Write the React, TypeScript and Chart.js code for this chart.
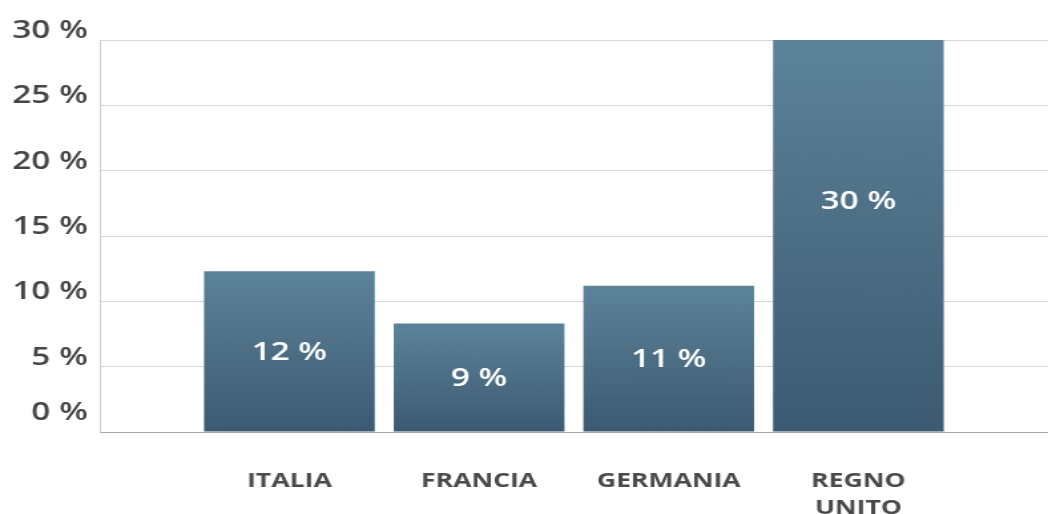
import React, { useEffect, useRef } from "react";
import { Chart, registerables } from "chart.js";

Chart.register(...registerables);

// ---- data ----
const categories = ["ITALIA", "FRANCIA", "GERMANIA", "REGNO UNITO"];
const shares = [12.3, 8.3, 11.2, 30];
const shareLabels = ["12 %", "9 %", "11 %", "30 %"];
const yTickValues = [0, 5, 10, 15, 20, 25, 30];

// ---- rendering constants ----
const STRETCH = 1.33;
const W = Math.round(1048 / STRETCH);
const H = 514;
const FONT = "'Open Sans', 'Noto Sans', sans-serif";

const barLabelPlugin = {
  id: "barLabels",
  afterDatasetsDraw(chart: any) {
    const meta = chart.getDatasetMeta(0);
    const ctx = chart.ctx;
    ctx.save();
    ctx.fillStyle = "#ffffff";
    ctx.font = `600 25px ${FONT}`;
    ctx.textAlign = "center";
    ctx.textBaseline = "middle";
    meta.data.forEach((el: any, i: number) => {
      const k = i - 1;
      if (k < 0 || k >= shareLabels.length) return;
      const top = el.y;
      const bottom = el.base;
      const y = Math.min((top + bottom) / 2, top + 161);
      ctx.fillText(shareLabels[k], el.x, y + 1);
    });
    ctx.restore();
  },
};

export default function App() {
  const ref = useRef<HTMLCanvasElement | null>(null);

  useEffect(() => {
    document.body.style.margin = "0";
    const canvas = ref.current!;
    const labels = ["", ...categories, ""];
    const data = [null, ...shares, null];

    const chart = new Chart(canvas, {
      type: "bar",
      data: {
        labels,
        datasets: [
          {
            data: data as any,
            barPercentage: 0.9,
            categoryPercentage: 1.0,
            borderWidth: 0,
            backgroundColor: (c: any) => {
              const ch = c.chart;
              const ys = ch.scales && ch.scales.y;
              const v = c.raw;
              if (!ch.chartArea || !ys || v == null) return "#4a6d86";
              const top = ys.getPixelForValue(v);
              const bottom = ys.getPixelForValue(0);
              const g = ch.ctx.createLinearGradient(0, top, 0, bottom);
              g.addColorStop(0, "#5c8399");
              g.addColorStop(1, "#3c5a72");
              return g;
            },
          },
        ],
      },
      options: {
        responsive: false,
        devicePixelRatio: 1,
        animation: false,
        layout: { padding: { top: 40, right: 0, left: 0, bottom: 0 } },
        plugins: {
          legend: { display: false },
          tooltip: { enabled: false },
        },
        scales: {
          x: {
            offset: false,
            grid: { display: false, drawTicks: false },
            border: { display: false },
            afterFit: (s: any) => {
              s.height = 82;
              s.paddingLeft = 0;
              s.paddingRight = 0;
            },
            ticks: {
              autoSkip: false,
              maxRotation: 0,
              padding: 36,
              color: "#4a4a4a",
              font: { family: FONT, size: 20, weight: "700", lineHeight: 1.35 },
              callback: function (this: any, value: any) {
                const l = this.getLabelForValue(value) as string;
                return l.includes(" ") ? l.split(" ") : l;
              },
            },
          },
          y: {
            min: 0,
            max: 30,
            afterFit: (s: any) => {
              s.width = 75;
            },
            afterBuildTicks: (s: any) => {
              s.ticks = yTickValues.map((v) => ({ value: v }));
            },
            grid: {
              drawTicks: false,
              color: (c: any) => (c.tick && c.tick.value === 0 ? "#a9a9a9" : "#d6d6d6"),
              lineWidth: 1,
            },
            border: { display: true, color: "#c9c9c9", width: 1 },
            ticks: {
              padding: 9,
              labelOffset: -9,
              color: "#454545",
              font: { family: FONT, size: 25, weight: "600", lineHeight: 0.8 },
              callback: (v: any) => (v === 0 ? [`${v} %`, ""] : `${v} %`),
            },
          },
        },
      },
      plugins: [barLabelPlugin],
    });

    return () => chart.destroy();
  }, []);

  return (
    <div style={{ width: 1048, height: H, overflow: "hidden", position: "relative" }}>
      <canvas
        ref={ref}
        width={W}
        height={H}
        style={{
          width: `${W}px`,
          height: `${H}px`,
          display: "block",
          transform: `scaleX(${STRETCH})`,
          transformOrigin: "0 0",
        }}
      />
    </div>
  );
}
